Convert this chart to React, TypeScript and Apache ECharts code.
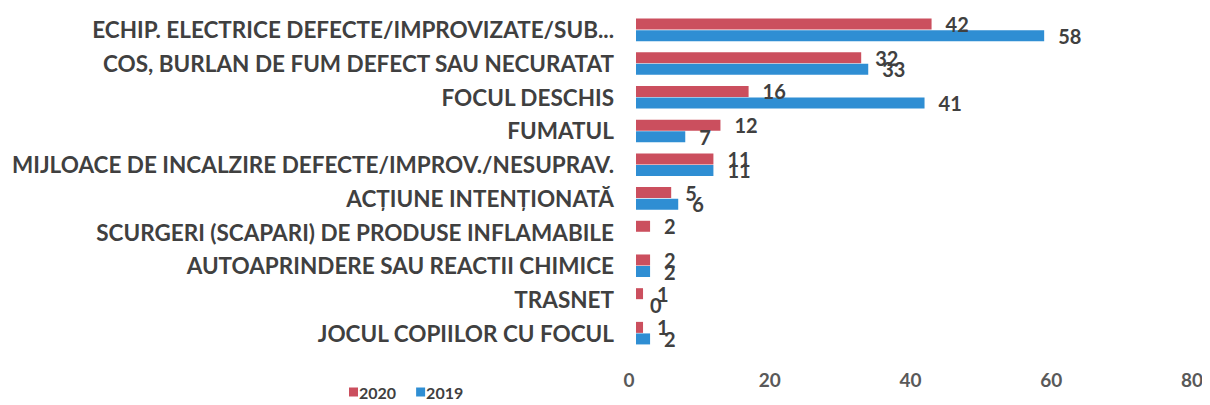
import React, { useEffect, useRef } from "react";
import * as echarts from "echarts";

const categories = [
  "ECHIP. ELECTRICE DEFECTE/IMPROVIZATE/SUB...",
  "COS, BURLAN DE FUM DEFECT SAU NECURATAT",
  "FOCUL DESCHIS",
  "FUMATUL",
  "MIJLOACE DE INCALZIRE DEFECTE/IMPROV./NESUPRAV.",
  "ACȚIUNE INTENȚIONATĂ",
  "SCURGERI (SCAPARI) DE PRODUSE INFLAMABILE",
  "AUTOAPRINDERE SAU REACTII CHIMICE",
  "TRASNET",
  "JOCUL COPIILOR CU FOCUL",
];
const values2020 = [42, 32, 16, 12, 11, 5, 2, 2, 1, 1];
const values2019: (number | null)[] = [58, 33, 41, 7, 11, 6, null, 2, 0, 2];
const xTicks = { min: 0, max: 80, interval: 20 };

export default function App() {
  const ref = useRef<HTMLDivElement>(null);
  useEffect(() => {
    if (!ref.current) return;
    const chart = echarts.init(ref.current, null, { renderer: "svg" });
    const font = "Lato, 'Open Sans', sans-serif";
    const labelStyle = {
      show: true,
      position: "right" as const,
      distance: 14,
      color: "#404040",
      fontFamily: font,
      fontWeight: "bold" as const,
      fontSize: 20,
    };
    chart.setOption({
      animation: false,
      backgroundColor: "#ffffff",
      grid: { left: 628, right: 11, top: 5, bottom: 55, containLabel: false },
      legend: {
        left: 336,
        top: 371,
        itemWidth: 9,
        itemHeight: 9,
        itemGap: 20,
        icon: "rect",
        textStyle: { color: "#404040", fontFamily: font, fontSize: 16, fontWeight: "bold", padding: [0, 0, 0, -4] },
        data: ["2020", "2019"],
      },
      xAxis: {
        type: "value",
        min: xTicks.min,
        max: xTicks.max,
        interval: xTicks.interval,
        axisLine: { show: false },
        axisTick: { show: false },
        splitLine: { show: false },
        axisLabel: {
          color: "#595959",
          fontFamily: font,
          fontWeight: "bold",
          fontSize: 19,
          margin: 20,
          padding: [0, 14, 0, 0],
        },
      },
      yAxis: {
        type: "category",
        inverse: true,
        data: categories,
        axisLine: { show: false },
        axisTick: { show: false },
        axisLabel: {
          color: "#404040",
          fontFamily: font,
          fontWeight: "bold",
          fontSize: 22.5,
          margin: 22,
        },
      },
      series: [
        {
          name: "2020",
          type: "bar",
          data: values2020,
          barWidth: 11,
          barGap: "5%",
          itemStyle: { color: "#CB4F5E" },
          label: labelStyle,
        },
        {
          name: "2019",
          type: "bar",
          data: values2019,
          barWidth: 11,
          itemStyle: { color: "#2F8ED3" },
          label: labelStyle,
        },
      ],
    });
    return () => chart.dispose();
  }, []);
  return <div ref={ref} style={{ width: 1202, height: 397 }} />;
}
